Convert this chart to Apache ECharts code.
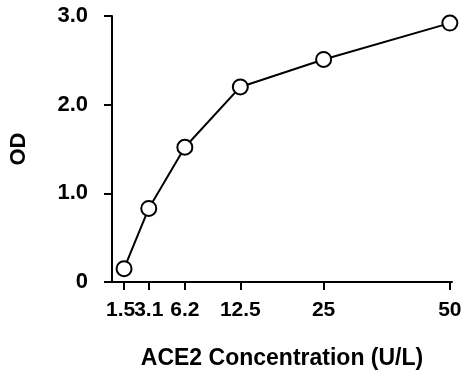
<!DOCTYPE html>
<html>
<head>
<meta charset="utf-8">
<script src="https://cdn.jsdelivr.net/npm/echarts@6/dist/echarts.min.js"></script>
<style>
html,body{margin:0;padding:0;background:#fff;}
#c{width:468px;height:370px;}
</style>
</head>
<body>
<div id="c"></div>
<script>
// Data
var concentrations = [1.5, 3.1, 6.2, 12.5, 25, 50];
var concLabels = ['1.5', '3.1', '6.2', '12.5', '25', '50'];
var odValues = [0.15, 0.83, 1.52, 2.2, 2.51, 2.92];
var yTickLabels = ['0', '1.0', '2.0', '3.0'];

// The original x-axis is compressed (neither linear nor log); a power scale approximates it
var P = 0.6;
function tx(v) { return Math.pow(v, P); }
var xTicks = concentrations.map(tx);
var seriesData = concentrations.map(function (c, i) { return [tx(c), odValues[i]]; });
// labels split over two stacked axes so the tightly packed "1.5" "3.1" are both kept
var evenTicks = xTicks.filter(function (v, i) { return i % 2 === 0; });
var oddTicks = xTicks.filter(function (v, i) { return i % 2 === 1; });

var font = '"Liberation Sans", Arial, sans-serif';
var xMin = xTicks[0] - 0.34;
var xMax = xTicks[xTicks.length - 1] + 0.06;
function xLabel(v) {
  for (var i = 0; i < xTicks.length; i++) {
    if (Math.abs(xTicks[i] - v) < 1e-6) return i === 0 ? '{first|' + concLabels[i] + '}' : concLabels[i];
  }
  return '';
}
var labelStyle = {color: '#000', fontFamily: font, fontWeight: 'bold', fontSize: 21, margin: 18,
  hideOverlap: false, showMinLabel: true, showMaxLabel: true, formatter: xLabel,
  rich: {first: {color: '#000', fontFamily: font, fontWeight: 'bold', fontSize: 21, padding: [0, 7, 0, 0]}}};

var chart = echarts.init(document.getElementById('c'), null, {renderer: 'canvas'});
chart.setOption({
  animation: false,
  backgroundColor: '#fff',
  grid: {left: 112, right: 16, top: 16, bottom: 88, containLabel: false, outerBoundsMode: 'none'},
  xAxis: [{
    type: 'value',
    position: 'bottom',
    min: xMin, max: xMax,
    name: 'ACE2 Concentration (U/L)',
    nameLocation: 'middle',
    nameGap: 65,
    nameTextStyle: {color: '#000', fontFamily: font, fontWeight: 'bold', fontSize: 23},
    axisLine: {show: true, onZero: false, lineStyle: {color: '#000', width: 2}},
    axisTick: {show: true, length: 8, lineStyle: {color: '#000', width: 2}, customValues: xTicks},
    axisLabel: Object.assign({customValues: evenTicks}, labelStyle),
    splitLine: {show: false}
  }, {
    type: 'value',
    position: 'bottom',
    min: xMin, max: xMax,
    axisLine: {show: false, onZero: false},
    axisTick: {show: false},
    axisLabel: Object.assign({customValues: oddTicks}, labelStyle),
    splitLine: {show: false}
  }],
  yAxis: {
    type: 'value',
    min: 0, max: 3, interval: 1,
    name: 'OD',
    nameLocation: 'middle',
    nameGap: 82,
    nameRotate: 90,
    nameTextStyle: {color: '#000', fontFamily: font, fontWeight: 'bold', fontSize: 22},
    axisLine: {show: true, lineStyle: {color: '#000', width: 2}},
    axisTick: {show: true, length: 8, lineStyle: {color: '#000', width: 2}},
    axisLabel: {
      color: '#000', fontFamily: font, fontWeight: 'bold', fontSize: 22, margin: 24,
      formatter: function (v) { return yTickLabels[Math.round(v)]; }
    },
    splitLine: {show: false}
  },
  series: [{
    type: 'line',
    xAxisIndex: 0,
    data: seriesData,
    symbol: 'circle',
    symbolSize: 15,
    showSymbol: true,
    lineStyle: {color: '#000', width: 2},
    itemStyle: {color: '#fff', borderColor: '#000', borderWidth: 2}
  }]
});
</script>
</body>
</html>
